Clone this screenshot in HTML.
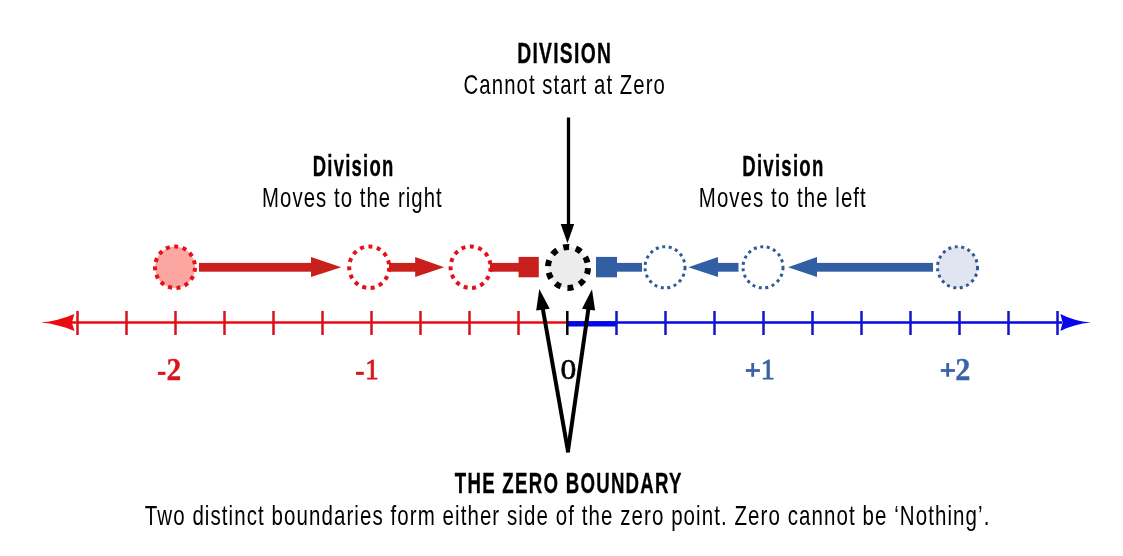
<!DOCTYPE html>
<html><head><meta charset="utf-8">
<style>
html,body{margin:0;padding:0;background:#fff;width:1123px;height:556px;overflow:hidden}
svg{display:block;will-change:transform}
.sb{font-family:"Liberation Sans",sans-serif;font-weight:bold;fill:#000;letter-spacing:2px;stroke:#000;stroke-width:0.35px}
.sr{font-family:"Liberation Sans",sans-serif;fill:#000;letter-spacing:1.5px}
</style></head><body>
<svg width="1123" height="556" viewBox="0 0 1123 556">
<!-- texts -->
<text class="sb" x="517.2" y="63.1" font-size="29.5" textLength="95" lengthAdjust="spacingAndGlyphs">DIVISION</text>
<text class="sr" x="463.6" y="93.8" font-size="28.5" textLength="202.4" lengthAdjust="spacingAndGlyphs">Cannot start at Zero</text>
<text class="sb" x="312.72" y="175.9" font-size="29.5" textLength="81.8" lengthAdjust="spacingAndGlyphs">Division</text>
<text class="sr" x="262.08" y="206.9" font-size="28.5" textLength="180.67" lengthAdjust="spacingAndGlyphs">Moves to the right</text>
<text class="sb" x="742.2" y="175.9" font-size="29.5" textLength="82.39" lengthAdjust="spacingAndGlyphs">Division</text>
<text class="sr" x="698.8" y="206.9" font-size="28.5" textLength="168.06" lengthAdjust="spacingAndGlyphs">Moves to the left</text>
<text class="sb" x="454.8" y="492.9" font-size="29.5" textLength="228.03" lengthAdjust="spacingAndGlyphs">THE ZERO BOUNDARY</text>
<text class="sr" x="144.8" y="525.1" font-size="28.5" textLength="845.61" lengthAdjust="spacingAndGlyphs">Two distinct boundaries form either side of the zero point. Zero cannot be ‘Nothing’.</text>

<!-- number line -->
<line x1="70" y1="322.5" x2="567.5" y2="322.5" stroke="#ec0a10" stroke-width="2.6"/>
<line x1="567.5" y1="322.5" x2="1062" y2="322.5" stroke="#0606ea" stroke-width="2.6"/>
<rect x="567.5" y="321.2" width="49" height="5.3" fill="#0606ea"/>
<path d="M41,322.5 Q58,321 74.4,314 L71.9,322.5 L74.4,331 Q58,324 41,322.5Z" fill="#ec0a10"/>
<path d="M1090.8,322.5 Q1074,321 1060.4,314 L1062.6,322.5 L1060.4,331 Q1074,324 1090.8,322.5Z" fill="#0606ea"/>
<g stroke-width="2.5">
<path stroke="#d6121c" d="M77.5,311V335M126.5,311V335M175.5,311V335M224.5,311V335M273.5,311V335M322.5,311V335M371.5,311V335M420.5,311V335M469.5,311V335M518.5,311V335"/>
<path stroke="#000" d="M567.3,311V335"/>
<path stroke="#1414c8" d="M616.5,311V335M665.5,311V335M714.5,311V335M763.5,311V335M812.5,311V335M861.5,311V335M910.5,311V335M959.5,311V335M1008.5,311V335M1057.5,311V335"/>
</g>
<g font-family="Liberation Serif" font-size="30">
<g fill="#d9141b" stroke="#d9141b">
<rect x="157.9" y="371.8" width="7.6" height="3.1" stroke="none"/>
<text x="166.6" y="379.8" font-size="31" font-weight="bold" stroke-width="0.3" textLength="14.73" lengthAdjust="spacingAndGlyphs">2</text>
<rect x="356.1" y="371.8" width="7.7" height="3.1" stroke="none"/>
<text x="365.2" y="379.3" stroke-width="0.9" textLength="13.29" lengthAdjust="spacingAndGlyphs">1</text>
</g>
<text x="560.6" y="379" stroke="#000" stroke-width="0.6" textLength="15.79" lengthAdjust="spacingAndGlyphs">0</text>
<g fill="#3a62a8" stroke="#3a62a8">
<rect x="745.8" y="369.1" width="14.1" height="2.8" stroke="none"/>
<rect x="751.3" y="363" width="2.8" height="13.8" stroke="none"/>
<text x="760.8" y="379.3" stroke-width="0.9" textLength="14" lengthAdjust="spacingAndGlyphs">1</text>
<rect x="940.8" y="369.1" width="14.1" height="2.8" stroke="none"/>
<rect x="946.3" y="363" width="2.8" height="13.8" stroke="none"/>
<text x="955.2" y="379.8" font-size="31" font-weight="bold" stroke-width="0.3" textLength="15.13" lengthAdjust="spacingAndGlyphs">2</text>
</g>
</g>

<!-- red arrows -->
<g fill="#c9201d">
<rect x="199" y="262.9" width="113" height="8.8"/>
<path d="M311,256.9 L341.3,267.3 L311,277Z"/>
<rect x="389" y="262.9" width="27" height="8.8"/>
<path d="M415.2,256.9 L444.2,267.3 L415.2,277Z"/>
<rect x="490" y="262.9" width="29" height="8.8"/>
<rect x="518.6" y="256.9" width="20.2" height="20.4"/>
</g>
<g fill="#325fa4">
<rect x="596" y="256.9" width="21" height="20.4"/>
<rect x="616" y="262.9" width="26" height="8.8"/>
<rect x="717" y="262.9" width="21.5" height="8.8"/>
<path d="M718,256.9 L688.3,267.3 L718,277Z"/>
<rect x="816" y="262.9" width="117" height="8.8"/>
<path d="M817,256.9 L788,267.3 L817,277Z"/>
</g>
<!-- circles -->
<g stroke-width="4" stroke-dasharray="4 4.55" stroke-dashoffset="-0.7" stroke="#e4111a">
<ellipse cx="175" cy="267.2" rx="20" ry="20.8" fill="#fca6a2"/>
<ellipse cx="369.2" cy="267.2" rx="20" ry="20.8" fill="none"/>
<ellipse cx="470.6" cy="267.2" rx="20" ry="20.8" fill="none"/>
</g>
<g stroke-width="3" stroke-dasharray="3 3.59" stroke="#2f5a98">
<ellipse cx="665" cy="267.3" rx="20" ry="20.6" fill="none"/>
<ellipse cx="763" cy="267.3" rx="20" ry="20.6" fill="none"/>
<ellipse cx="957.5" cy="267.3" rx="20" ry="20.6" fill="#e0e5ef"/>
</g>
<ellipse cx="568" cy="267.4" rx="20" ry="20.5" fill="#ececec" stroke="#000" stroke-width="6" stroke-dasharray="6 6.76" stroke-dashoffset="-0.67"/>

<!-- black arrows -->
<g stroke="#000" fill="none">
<line x1="568.5" y1="117.5" x2="568.5" y2="226" stroke-width="3.3"/>
<path d="M568.2,452.3 L541.6,302" stroke-width="4"/>
<path d="M567.8,452.3 L589.4,302" stroke-width="4"/>
</g>
<g fill="#000">
<path d="M560.7,224 L574.2,224 L567.5,243.3Z"/>
<path d="M539.3,288.9 L549.7,308.7 L536.2,310.5Z"/>
<path d="M592,289.3 L595.1,310.5 L582,308.7Z"/>
</g>
</svg>
</body></html>
